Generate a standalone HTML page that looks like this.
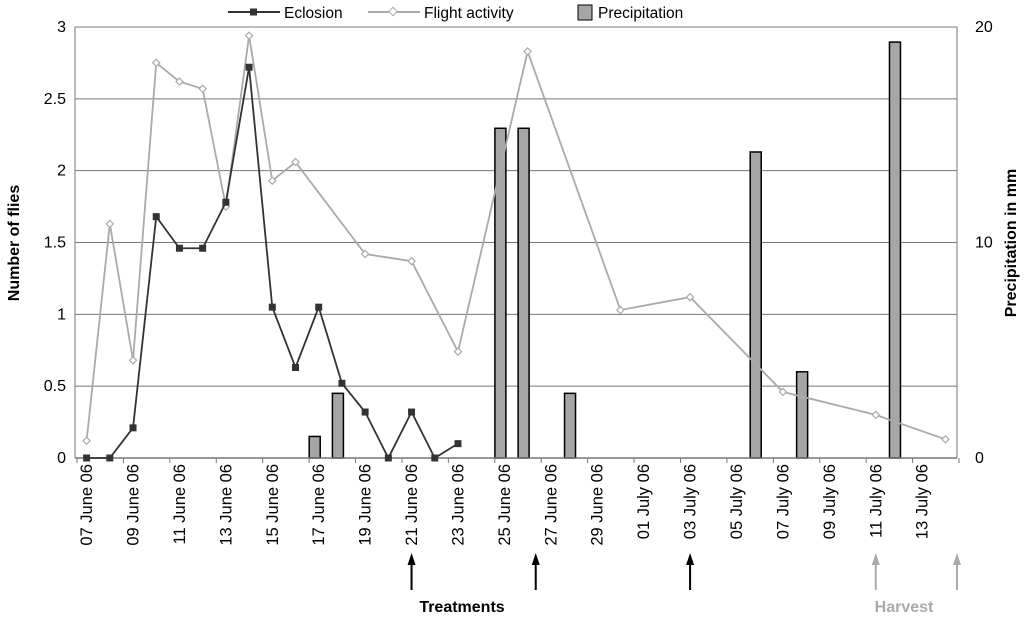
<!DOCTYPE html>
<html><head><meta charset="utf-8"><style>
body{margin:0;background:#fff;}
svg text{font-family:"Liberation Sans",Arial,sans-serif;}
</style></head><body>
<svg id="chart" width="1024" height="618" xmlns="http://www.w3.org/2000/svg">
<g id="grid"></g>
<g id="bars"></g>
<g id="axes"></g>
<g id="lines"></g>
<g id="xlabels"></g>
<text transform="translate(19,243) rotate(-90)" text-anchor="middle" font-size="16" font-weight="bold">Number of flies</text>
<text transform="translate(1016,243) rotate(-90)" text-anchor="middle" font-size="16" font-weight="bold">Precipitation in mm</text>
<g>
<g><line x1="228" y1="12" x2="280" y2="12" stroke="#333" stroke-width="2"/><rect x="250" y="8.5" width="7" height="7" fill="#333"/><text x="284" y="18" font-size="15.5">Eclosion</text></g>
<g><line x1="368" y1="12" x2="420" y2="12" stroke="#aaa" stroke-width="2"/><rect x="390" y="8.5" width="6" height="6" fill="#fff" stroke="#aaa" transform="rotate(45 393 11.5)"/><text x="424" y="18" font-size="15.5">Flight activity</text></g>
<g><rect x="578" y="5" width="14" height="15" fill="#a6a6a6" stroke="#000"/><text x="598" y="18" font-size="15.5">Precipitation</text></g>
</g>
<g id="arrows"></g>
<text x="462" y="612" text-anchor="middle" font-size="16" font-weight="bold">Treatments</text>
<text x="904" y="612" text-anchor="middle" font-size="16" font-weight="bold" fill="#aaa">Harvest</text>
</svg>
<script>
const dates = ["07 June 06","08 June 06","09 June 06","10 June 06","11 June 06","12 June 06","13 June 06","14 June 06","15 June 06","16 June 06","17 June 06","18 June 06","19 June 06","20 June 06","21 June 06","22 June 06","23 June  06","24 June 06","25 June 06","26 June 06","27 June 06","28 June 06","29 June 06","30 June 06","01 July 06","02 July 06","03 July 06","04 July 06","05 July 06","06 July 06","07 July 06","08 July 06","09 July 06","10 July 06","11 July 06","12 July 06","13 July 06","14 July 06"];
const eclosion = [0,0,0.21,1.68,1.46,1.46,1.78,2.72,1.05,0.63,1.05,0.52,0.32,0,0.32,0,0.1,null,null,null,null,null,null,null,null,null,null,null,null,null,null,null,null,null,null,null,null,null];
const flight = [0.12,1.63,0.68,2.75,2.62,2.57,1.75,2.94,1.93,2.06,null,null,1.42,null,1.37,null,0.74,null,null,2.83,null,null,null,1.03,null,null,1.12,null,null,null,0.46,null,null,null,0.3,null,null,0.13];
const precipitation = [0,0,0,0,0,0,0,0,0,0,1.0,3.0,0,0,0,0,0,0,15.3,15.3,0,3.0,0,0,0,0,0,0,0,14.2,0,4.0,0,0,0,19.3,0,0];
const leftTicks = ["0","0.5","1","1.5","2","2.5","3"];
const rightTicks = ["0","10","20"];
const treatmentDays = [14,19.35,26];
const harvestDays = [34,38];

const NS="http://www.w3.org/2000/svg";
const X0=75,X1=957,Y0=458,Y1=27;
const bw=(X1-X0)/dates.length;
const xc=i=>X0+(i+0.5)*bw;
const xe=i=>X0+i*bw;
const yL=v=>Y0-(v/3)*(Y0-Y1);
const yR=v=>Y0-(v/20)*(Y0-Y1);
function mk(tag,attrs,parent){const e=document.createElementNS(NS,tag);for(const k in attrs)e.setAttribute(k,attrs[k]);parent.appendChild(e);return e;}
const grid=document.getElementById('grid'),axes=document.getElementById('axes'),bars=document.getElementById('bars'),lines=document.getElementById('lines'),xl=document.getElementById('xlabels'),arr=document.getElementById('arrows');
leftTicks.forEach(t=>{const v=parseFloat(t);const y=yL(v);
 if(v>0){const g=mk('line',{x1:X0,x2:X1,y1:y,y2:y,stroke:'#777','stroke-width':1},grid);
 
 }
 const tx=mk('text',{x:66,y:y+5,'text-anchor':'end','font-size':16},axes);tx.textContent=t;
 
 
});
rightTicks.forEach(t=>{const y=yR(parseFloat(t));
 const tx=mk('text',{x:975,y:y+5,'text-anchor':'start','font-size':16},axes);tx.textContent=t;
 
 
});
mk('line',{x1:X0,x2:X0,y1:Y1,y2:Y0,stroke:'#777'},axes);
mk('line',{x1:X1,x2:X1,y1:Y1,y2:Y0,stroke:'#777'},axes);
mk('line',{x1:X0,x2:X1,y1:Y0,y2:Y0,stroke:'#777','stroke-width':1.5},axes);
for(let i=0;i<=dates.length;i+=2){mk('line',{x1:xe(i)+2,x2:xe(i)+2,y1:Y0,y2:Y0+5,stroke:'#777'},axes);}
precipitation.forEach((v,i)=>{if(!v)return;
 const r=mk('rect',{x:xc(i)-9.5,y:yR(v),width:11,height:Y0-yR(v),fill:'#a6a6a6',stroke:'#000','stroke-width':1.5},bars);
 
 
});
function series(vals,color,marker,name){
 const pts=[];vals.forEach((v,i)=>{if(v!==null)pts.push([xc(i),yL(v)]);});
 const p=mk('polyline',{points:pts.map(p=>p.join(',')).join(' '),fill:'none',stroke:color,'stroke-width':1.8},lines);
 
 
 pts.forEach(([x,y])=>{let m;
  if(marker==='sq')m=mk('rect',{x:x-3.5,y:y-3.5,width:7,height:7,fill:'#333'},lines);
  else m=mk('rect',{x:x-2.5,y:y-2.5,width:5,height:5,fill:'#fff',stroke:color,'stroke-width':1.2,transform:`rotate(45 ${x} ${y})`},lines);
  
  
 });
}
series(flight,'#aaa','dia','flight-activity');
series(eclosion,'#333','sq','eclosion');
dates.forEach((d,i)=>{if(i%2)return;
 const x=xc(i)+5.5,y=464;
 const t=mk('text',{x:x,y:y,'text-anchor':'end','font-size':16.5,transform:`rotate(-90 ${x} ${y})`},xl);t.textContent=d;
 
 
});
function arrow(i,color,name){const x=(i>=dates.length)?X1:xc(i);
 mk('line',{x1:x,x2:x,y1:562,y2:590,stroke:color,'stroke-width':2},arr);
 const h=mk('polygon',{points:`${x-4},565 ${x+4},565 ${x},553`,fill:color},arr);
 
 
}
treatmentDays.forEach(i=>arrow(i,'#000','treatment-arrow'));
harvestDays.forEach(i=>arrow(i,'#aaa','harvest-arrow'));
</script>
</body></html>
